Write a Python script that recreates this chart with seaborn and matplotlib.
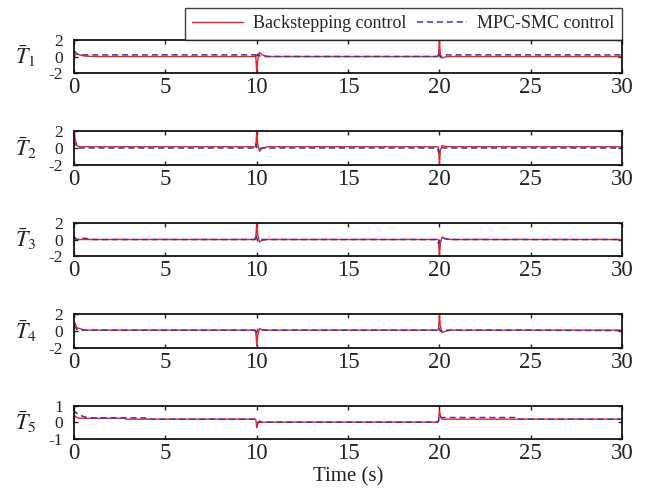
import matplotlib
matplotlib.use("Agg")
import matplotlib.pyplot as plt
import seaborn as sns

# time knots shared by every series
t = [0, 0.05, 0.15, 0.3, 0.6, 1.0, 2.8, 2.85, 3.9, 3.95, 9.9, 9.95, 10.0, 10.05,
     10.15, 10.3, 10.6, 19.9, 19.95, 20.0, 20.05, 20.15, 20.3, 20.6, 24.2, 24.25, 30]

# Backstepping control
red1 = [-0.5, 0.2, 0.3, 0.2, 0.05, 0, 0, 0, 0, 0, 0, 0, -2.0, -0.5,
        0.5, 0.2, 0, 0, 0.1, 2.0, 0.3, -0.2, -0.05, 0, 0, 0, 0]
red2 = [2.0, 1.2, 0.3, 0.15, 0.15, 0.15, 0.15, 0.15, 0.15, 0.15, 0.15, 0.15, 2.0, 0.5,
        -0.4, 0.0, 0.15, 0.15, 0.1, -2.0, -0.3, 0.3, 0.2, 0.15, 0.15, 0.15, 0.15]
red3 = [0.2, 0.1, 0, 0, 0, 0, 0, 0, 0, 0, 0, 0.1, 2.0, 0.6,
        -0.3, -0.1, 0, 0, -0.1, -2.0, -0.5, 0.3, 0.1, 0, 0, 0, 0]
red4 = [0.2, 1.0, 0.4, 0.3, 0.1, 0.1, 0.1, 0.1, 0.1, 0.1, 0.1, 0.0, -1.8, -0.6,
        0.3, 0.15, 0.1, 0.1, 0.2, 2.0, 0.6, -0.2, -0.05, 0.1, 0.1, 0.1, 0.1]
red5 = [0.1, 0.4, 0.3, 0.26, 0.25, 0.25, 0.25, 0.2, 0.2, 0.2, 0.2, 0.18, -0.3, -0.1,
        0.1, 0.0, 0.02, 0.02, 0.05, 0.75, 0.4, 0.2, 0.2, 0.2, 0.2, 0.2, 0.2]

# MPC-SMC control
blue1 = [0.7, 0.6, 0.3, 0.2, 0.2, 0.2, 0.2, 0.2, 0.2, 0.2, 0.2, 0.2, -0.2, 0.3,
         0.1, 0.0, 0, 0, 0.5, 0.2, -0.1, 0.1, 0.2, 0.2, 0.2, 0.2, 0.2]
blue2 = [0.2, 0.6, 0.1, 0, 0, 0, 0, 0, 0, 0, 0, 0.5, 0.1, -0.2,
         -0.1, 0, 0, 0, -0.5, -0.1, 0.1, 0.05, 0, 0, 0, 0, 0]
blue3 = [0.4, 0.2, 0.0, 0.1, 0.15, 0, 0, 0, 0, 0, 0, 0.6, 0.2, -0.2,
         -0.05, 0, 0, 0, -0.5, -0.3, 0.1, 0.2, 0.1, 0, 0, 0, 0]
blue4 = [0.7, 0.5, 0.2, 0.1, 0.1, 0.1, 0.1, 0.1, 0.1, 0.1, 0.1, -0.5, -0.2, 0.2,
         0.1, 0.1, 0.1, 0.1, 0.4, 0.3, -0.05, 0.05, 0.1, 0.1, 0.1, 0.1, 0.05]
blue5 = [0.5, 0.65, 0.55, 0.45, 0.33, 0.28, 0.28, 0.28, 0.28, 0.2, 0.2, 0.2, 0.05, 0.0,
         0.02, 0.02, 0.02, 0.02, 0.1, 0.4, 0.3, 0.3, 0.3, 0.3, 0.3, 0.2, 0.2]

reds = [red1, red2, red3, red4, red5]
blues = [blue1, blue2, blue3, blue4, blue5]
ylims = [(-2, 2), (-2, 2), (-2, 2), (-2, 2), (-1, 1)]
yticks = [[-2, 0, 2], [-2, 0, 2], [-2, 0, 2], [-2, 0, 2], [-1, 0, 1]]
xticks = [0, 5, 10, 15, 20, 25, 30]

sns.set_style("ticks")
plt.rcParams['font.family'] = ['Liberation Serif', 'DejaVu Serif']
plt.rcParams['mathtext.fontset'] = 'stix'
plt.rcParams['axes.unicode_minus'] = False

fig, axes = plt.subplots(5, 1, figsize=(6.46, 4.97), dpi=100)
fig.subplots_adjust(left=0.1146, right=0.963, top=0.9195, bottom=0.1167, hspace=1.77)

for i, ax in enumerate(axes):
    sns.lineplot(x=t, y=reds[i], ax=ax, color='#ee1c25', linewidth=1.0,
                 label='Backstepping control' if i == 0 else None)
    sns.lineplot(x=t, y=blues[i], ax=ax, color='#3a3a9e', linewidth=1.1,
                 linestyle=(0, (4, 2.5)),
                 label='MPC-SMC control' if i == 0 else None)
    ax.set_xlim(0, 30)
    ax.set_ylim(*ylims[i])
    ax.set_xticks(xticks)
    ax.set_yticks(yticks[i])
    ax.tick_params(axis='x', direction='in', top=True, length=3, width=1,
                   labelsize=16.5, pad=3, colors='#222222')
    ax.tick_params(axis='y', direction='in', right=True, length=3, width=1,
                   labelsize=12.5, pad=8, colors='#222222')
    for sp in ax.spines.values():
        sp.set_visible(True)
        sp.set_linewidth(1.3)
        sp.set_color('#111111')
    ax.text(-0.088, 0.5, r'$\bar{T}_%d$' % (i + 1), transform=ax.transAxes,
            fontsize=16, ha='center', va='center', color='#222222')
    if i == 0:
        leg = ax.legend(loc='lower right', bbox_to_anchor=(1.0, 1.0), ncol=2,
                        fontsize=13, handlelength=2.8, handletextpad=0.55,
                        columnspacing=0.6, borderaxespad=0, borderpad=0.42,
                        fancybox=False, frameon=True)
        leg.get_frame().set_edgecolor('#111111')
        leg.get_frame().set_linewidth(1.0)
    elif ax.get_legend() is not None:
        ax.get_legend().remove()

fig.text(0.539, 0.04, 'Time (s)', ha='center', va='center', fontsize=15, color='#222222')

plt.savefig('out.png', dpi=100)
